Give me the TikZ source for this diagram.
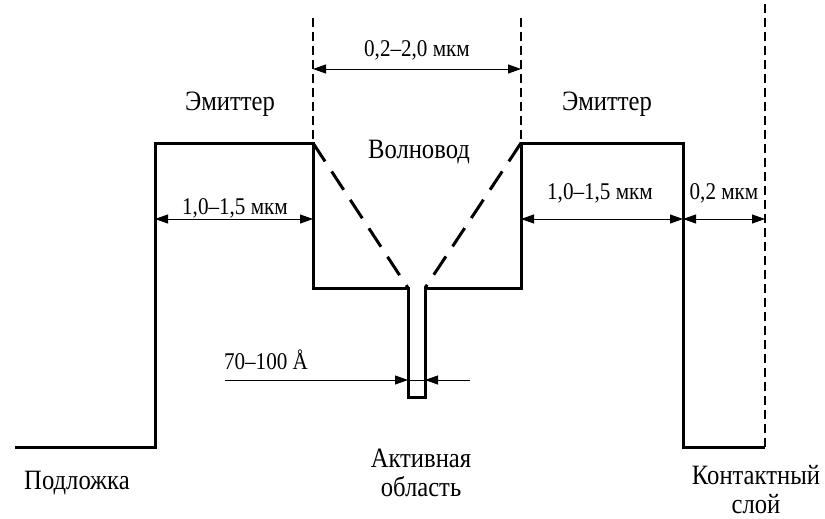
\documentclass[tikz,border=0pt]{standalone}
\usepackage{fontspec}
\setmainfont{Liberation Serif}[FakeStretch=0.88]
\usetikzlibrary{arrows.meta}
\begin{document}
\begin{tikzpicture}[x=1pt,y=-1pt,
  profile/.style={line width=3pt, line join=miter},
  guide/.style={line width=1.2pt, dash pattern=on 9pt off 5pt},
  wg/.style={line width=3pt, dash pattern=on 22pt off 12pt},
  tip/.tip={Triangle[length=13pt,width=9pt]},
  dim/.style={line width=0.9pt},
  lbl/.style={font=\fontsize{24}{27}\selectfont, inner sep=0pt, align=center},
  biglbl/.style={font=\fontsize{28}{29}\selectfont, inner sep=0pt, align=center}]
\useasboundingbox (0,0) rectangle (825,519);
% profile corner points
\coordinate (s0) at (15,447);
\coordinate (s1) at (155,447);
\coordinate (e1) at (155,143);
\coordinate (e2) at (313,143);
\coordinate (w1) at (313,288);
\coordinate (q1) at (408,288);
\coordinate (q2) at (408,397);
\coordinate (q3) at (425,397);
\coordinate (q4) at (425,288);
\coordinate (w2) at (521,288);
\coordinate (e3) at (521,143);
\coordinate (e4) at (683,143);
\coordinate (c1) at (683,447);
\coordinate (c2) at (765,447);
\draw[profile] (s0) -- (s1) -- (e1) -- (e2) -- (w1) -- (q1) -- (q2) -- (q3) -- (q4) -- (w2) -- (e3) -- (e4) -- (c1) -- (c2);
% waveguide dashed diagonals
\draw[wg] (e2) -- (q1);
\draw[wg] (e3) -- (q4);
% guide lines
\coordinate (g1) at (313,18);
\coordinate (g2) at (521,18);
\coordinate (g3) at (765,4);
\draw[guide] (g1) -- (e2);
\draw[guide] (g2) -- (e3);
\draw[guide] (g3) -- (c2);
% dimension arrows
\coordinate (a1) at (313,69);
\coordinate (a2) at (521,69);
\draw[dim,tip-tip] (a1) -- (a2);
\coordinate (b1) at (155,219);
\coordinate (b2) at (313,219);
\draw[dim,tip-tip] (b1) -- (b2);
\coordinate (b3) at (521,219);
\coordinate (b4) at (683,219);
\draw[dim,tip-tip] (b3) -- (b4);
\coordinate (b5) at (765,219);
\draw[dim,tip-tip] (b4) -- (b5);
\coordinate (d0) at (225,380);
\coordinate (d1) at (408,380);
\coordinate (d2) at (425,380);
\coordinate (d3) at (470,380);
\draw[dim,-tip] (d0) -- (d1);
\draw[dim,-tip] (d3) -- (d2);
\draw[dim] (d1) -- (d2);
% labels
\node[biglbl] (em1) at (230,104) {Эмиттер};
\node[biglbl] (em2) at (607,104) {Эмиттер};
\node[biglbl] (wv) at (419,152) {Волновод};
\node[lbl] (t1) at (417,50) {0,2–2,0 мкм};
\node[lbl] (t2) at (235,208) {1,0–1,5 мкм};
\node[lbl] (t3) at (600,193) {1,0–1,5 мкм};
\node[lbl] (t4) at (724,193) {0,2 мкм};
\node[lbl] (t5) at (266,360) {70–100 Å};
\node[biglbl] (sub) at (77,483) {Подложка};
\node[biglbl] (act) at (421,473) {Активная\\область};
\node[biglbl] (cnt) at (756,490) {Контактный\\слой};
\end{tikzpicture}
\end{document}
